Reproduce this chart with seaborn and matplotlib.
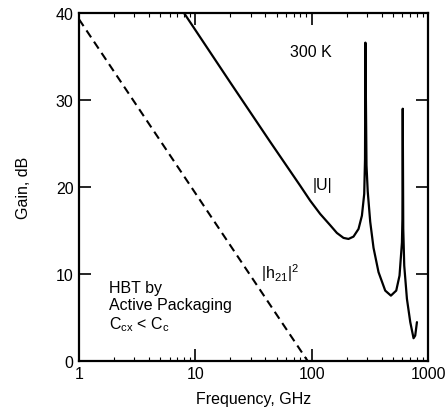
import numpy as np
import pandas as pd
import matplotlib
matplotlib.use('Agg')
import matplotlib.pyplot as plt
import seaborn as sns

# |h21|^2 (dashed), straight -20 dB/decade
h21_freq = [1.0, 92.0]
h21_gain = [39.3, 0.0]

# |U| (solid)
u_freq = [8.0, 20.0, 43.9, 79.5, 96.9, 118.1, 144, 164.4, 187.4, 206.9, 228.4, 252.2, 269.7,
          282.3, 286.8, 289, 295.3, 302.5, 317.8, 339.3, 374.6, 427.6, 478.6, 531.8, 567.5,
          595.3, 601, 604.8, 611, 623, 657, 702, 749, 774, 801]
u_gain = [40.0, 32.0, 25.2, 20.15, 18.43, 16.9, 15.6, 14.71, 14.14, 14.02, 14.29, 15.17, 16.7,
          19.2, 23.2, 36.6, 22.5, 19.5, 16.0, 13.0, 10.2, 8.08, 7.5, 8.08, 9.8,
          13.6, 16.3, 29.0, 15.2, 10.95, 7.13, 4.45, 2.6, 2.9, 4.45]

df_h21 = pd.DataFrame({'freq': h21_freq, 'gain': h21_gain})
df_u = pd.DataFrame({'freq': u_freq, 'gain': u_gain})

sns.set_style('ticks', {'axes.edgecolor': 'black', 'xtick.color': 'black',
                        'ytick.color': 'black', 'text.color': 'black',
                        'axes.labelcolor': 'black'})
plt.rcParams['font.family'] = ['Liberation Sans', 'DejaVu Sans']
plt.rcParams['mathtext.fontset'] = 'custom'
plt.rcParams['mathtext.rm'] = 'Liberation Sans'
plt.rcParams['mathtext.it'] = 'Liberation Sans'
plt.rcParams['mathtext.bf'] = 'Liberation Sans'

fs = 11.5
fig = plt.figure(figsize=(4.46, 4.14), dpi=100)
ax = fig.add_axes([0.177, 0.126, 0.783, 0.840])

sns.lineplot(data=df_h21, x='freq', y='gain', ax=ax, color='black',
             linewidth=1.5, linestyle=(0, (4, 2.5)), estimator=None, sort=False)
sns.lineplot(data=df_u, x='freq', y='gain', ax=ax, color='black',
             linewidth=1.6, estimator=None, sort=False)

ax.set_xscale('log')
ax.set_xlim(1, 1000)
ax.set_ylim(0, 40)
ax.set_xticks([1, 10, 100, 1000])
ax.set_xticklabels(['1', '10', '100', '1000'])
ax.set_yticks([0, 10, 20, 30, 40])
ax.tick_params(which='major', direction='in', length=8.5, width=1.2,
               top=True, right=True, labelsize=fs, pad=4)
ax.tick_params(which='minor', direction='in', length=3, width=0.8,
               top=True, right=True)
for s in ax.spines.values():
    s.set_linewidth(1.6)

ax.set_xlabel('Frequency, GHz', fontsize=fs, labelpad=7)
ax.set_ylabel('Gain, dB', fontsize=fs, labelpad=18)

ax.text(65, 35.6, '300 K', fontsize=fs, va='center', ha='left')
ax.text(101, 20.3, '|U|', fontsize=fs, va='center', ha='left')
ax.text(36.7, 10.2, r'$\mathregular{|h_{21}|^2}$', fontsize=fs, va='center', ha='left')
ax.text(1.82, 9.3, 'HBT by\nActive Packaging\n' + r'$\mathregular{C_{cx}}$ < $\mathregular{C_c}$',
        fontsize=fs, va='top', ha='left', linespacing=1.15)

plt.savefig('out.png', dpi=100)
